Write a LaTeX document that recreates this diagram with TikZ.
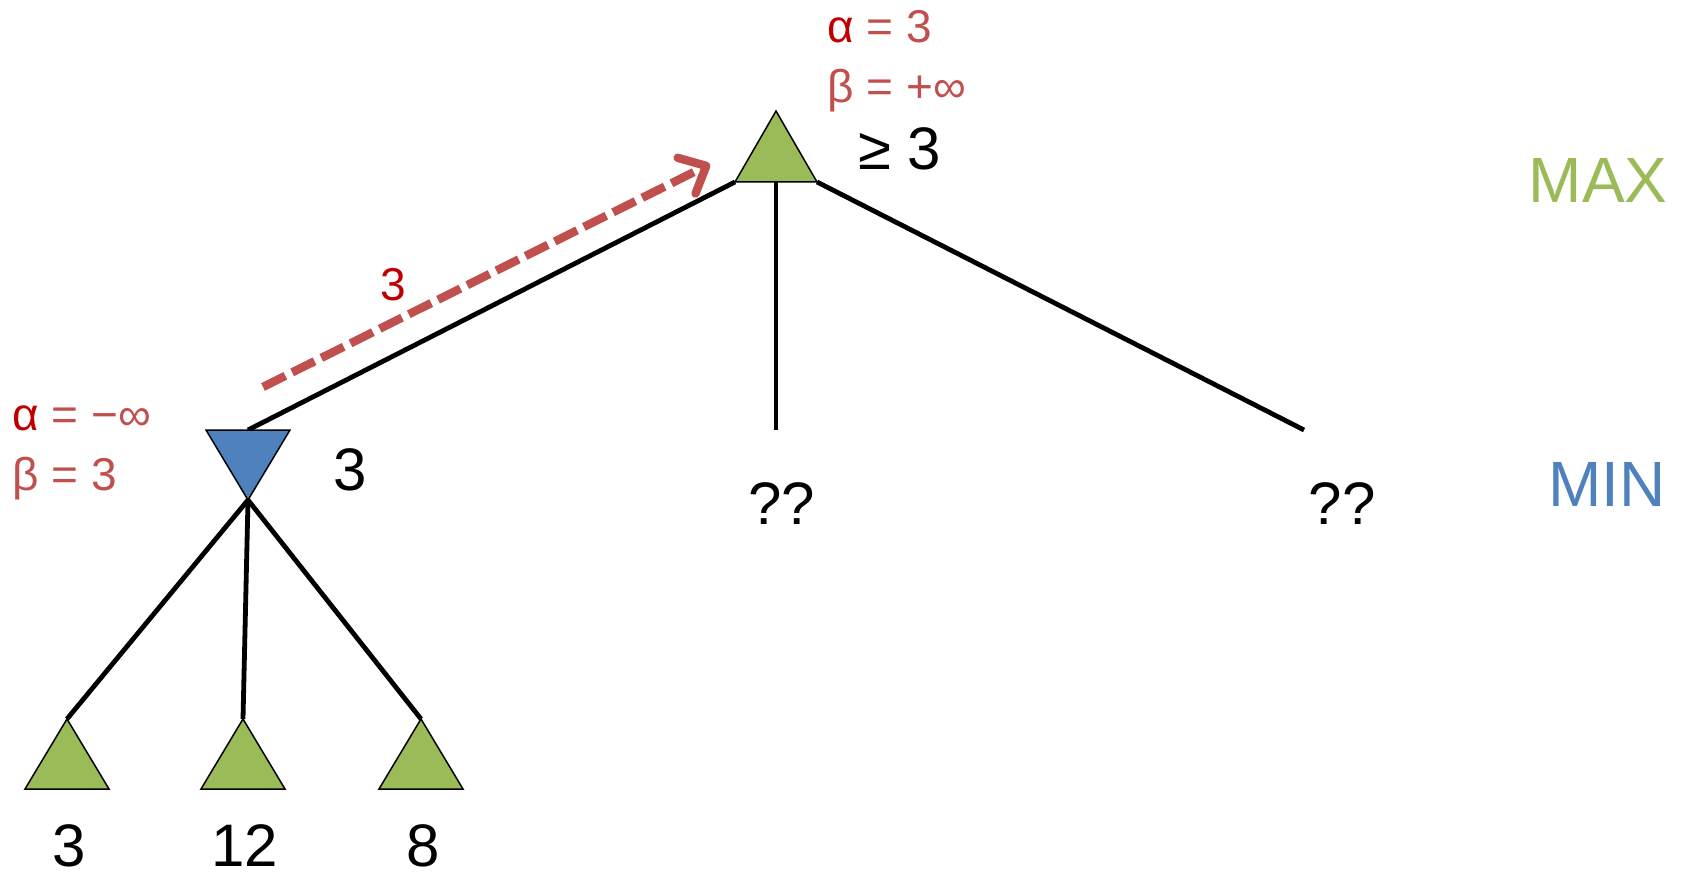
\documentclass[tikz,border=0pt]{standalone}
\usepackage{fontspec}
\setmainfont{Liberation Sans}
\usepackage{xcolor,tikz}
\usetikzlibrary{arrows.meta,calc}
\definecolor{abMaxFill}{HTML}{9BBB59}
\definecolor{abMinFill}{HTML}{4F81BD}
\definecolor{abBoundText}{HTML}{C0504D}
\definecolor{abAlphaText}{HTML}{C00000}

\begin{document}
\begin{tikzpicture}[x=0.5pt, y=-0.5pt,
  treeEdge/.style={black, line width=2.4pt},
  maxTri/.style={fill=abMaxFill, draw=black, line width=0.75pt, line join=miter},
  minTri/.style={fill=abMinFill, draw=black, line width=0.75pt, line join=miter},
  valText/.style={inner sep=0pt, font=\fontsize{30}{36}\selectfont, text=black},
  boundText/.style={inner sep=0pt, anchor=base west, font=\fontsize{23}{28}\selectfont, text=abBoundText},
  levelText/.style={inner sep=0pt, anchor=base east, font=\fontsize{32}{38}\selectfont}]

\useasboundingbox (0,0) rectangle (1687,877);

%% picture is laid out in pixel units of the 1687 x 877 canvas

\def\triHW{41}    % half width of a triangle
\def\triH{71}     % height of a triangle
\def\leafY{719}   % apex row of the leaves

% --- NODE ANCHORS ---
\coordinate (root) at (776,111);                 % apex of the MAX node
\coordinate (rootBL) at ($(root)+(-\triHW,\triH)$);
\coordinate (rootB) at ($(root)+(0,\triH)$);
\coordinate (rootBR) at ($(root)+(\triHW,\triH)$);
\coordinate (minT) at (248,430);                 % top centre of the MIN node
\coordinate (minB) at (248,500);                 % bottom apex of the MIN node
\coordinate (midEnd) at (776,430);
\coordinate (rightEnd) at (1304,430);

% --- TREE EDGES ---
\draw[treeEdge] (rootBL) -- (minT);
\draw[treeEdge] (rootB) -- (midEnd);
\draw[treeEdge] (rootBR) -- (rightEnd);

% --- LEAVES (MAX triangles) ---
\foreach \lx/\lab/\lname in {67/3/leafA, 243/12/leafB, 421/8/leafC} {
  \coordinate (\lname) at (\lx,\leafY);
  \draw[treeEdge] (minB) -- (\lname);
  \filldraw[maxTri] (\lname) -- ++(42,70) -- ++(-84,0) -- cycle;
  \node[valText, anchor=base] (\lname-val) at ($(\lname)+(2,147)$) {\lab};
}

% --- MIN NODE ---
\filldraw[minTri] (minB) -- ($(minT)+(42,0)$) -- ($(minT)+(-42,0)$) -- cycle;
\node[valText, anchor=base] (minVal) at (350,490) {3};
\node[boundText] (minAlpha) at (12,430) {{\color{abAlphaText}α} = −∞};
\node[boundText] (minBeta) at (12,490) {β = 3};

% --- ROOT (MAX) NODE ---
\filldraw[maxTri] (root) -- (rootBR) -- (rootBL) -- cycle;
\node[valText, anchor=base west] (rootVal) at (858,170) {≥ 3};
\node[boundText] (rootAlpha) at (827,43) {{\color{abAlphaText}α} = 3};
\node[boundText] (rootBeta) at (827,103) {β = +∞};

% --- UNEXPLORED CHILDREN ---
\node[valText, anchor=base] (midVal) at (782,524) {??};
\node[valText, anchor=base] (rightVal) at (1342,524) {??};

% --- VALUE PASSED UP ---
\coordinate (upStart) at (263,387);
\coordinate (upEnd) at (710,164);
\draw[abBoundText, line width=4.2pt, dash pattern=on 12.5pt off 3.8pt,
      -{Straight Barb[length=11pt, width=20pt, round]}]
  (upStart) -- (upEnd);
\node[valText, text=abAlphaText, anchor=base, font=\fontsize{23}{28}\selectfont]
  (upVal) at (393,300) {3};

% --- LEVEL LABELS ---
\node[levelText, text=abMaxFill] (maxLab) at (1668,203) {MAX};
\node[levelText, text=abMinFill] (minLab) at (1666,506) {MIN};

\end{tikzpicture}
\end{document}
